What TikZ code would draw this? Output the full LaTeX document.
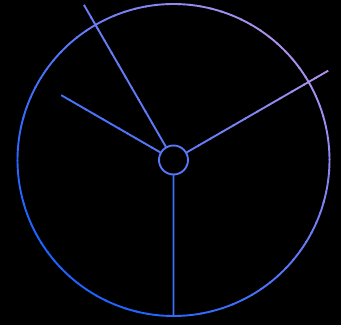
\documentclass[tikz,border=0pt]{standalone}
\usetikzlibrary{calc}
\definecolor{gA}{RGB}{30,100,255}
\definecolor{gB}{RGB}{170,145,238}
\begin{document}
\begin{tikzpicture}[x=1pt,y=1pt,line width=1.9pt]
\fill[black] (0,0) rectangle (341,325);
\useasboundingbox (0,0) rectangle (341,325);
\coordinate (O) at (173.5,165);
% outer ring, drawn in short arcs to follow the colour gradient
\foreach \i in {0,...,89}{
  \pgfmathsetmacro\mm{\i*4+2}
  \pgfmathsetmacro\ss{max(0.001,min(1,0.5+(cos(\mm)+sin(\mm))/(2*sqrt(2))))}
  \pgfmathsetmacro\pp{100*\ss^1.3}
  \draw[color=gB!\pp!gA] ($(O)+(\i*4:156)$) arc[start angle=\i*4, end angle=\i*4+4.4, radius=156];
}
% hub
\node[circle,minimum size=29pt,inner sep=0pt,outer sep=0pt,draw=gB!41!gA] (c) at (O) {};
% slanted spokes
\foreach \a/\L/\nm in {120/177.5/e1,150/128.5/e2,30/177/e3}{
  \coordinate (\nm) at ($(O)+(\a:\L)$);
  \foreach \k in {0,...,11}{
    \pgfmathsetmacro\rr{14.5+(\L-14.5)*(\k+0.5)/12}
    \pgfmathsetmacro\ss{max(0.001,min(1,0.5+\rr*(cos(\a)+sin(\a))/(2*sqrt(2)*156)))}
    \pgfmathsetmacro\pp{100*\ss^1.3}
    \draw[color=gB!\pp!gA] ($(c.\a)!{\k/12}!(\nm)$) -- ($(c.\a)!{(\k+1)/12+0.01}!(\nm)$);
  }
}
% vertical spoke
\coordinate (e4) at (173.55,9);
\fill[gB!22!gA] ($(c.south)+(-0.95,0)$) -- ($(e4)+(-0.95,0)$) -- ($(e4)+(0.95,0)$) -- ($(c.south)+(0.95,0)$) -- cycle;
\end{tikzpicture}
\end{document}
